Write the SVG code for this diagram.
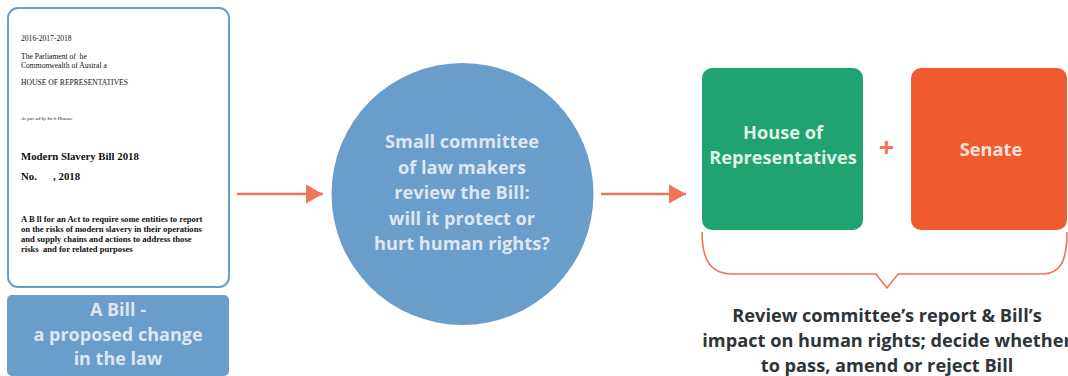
<svg xmlns="http://www.w3.org/2000/svg" width="1068" height="376" viewBox="0 0 1068 376">
<style>
.doc{font-family:"Liberation Serif","Times New Roman",serif;fill:#111}
.lbl{font-family:"Open Sans","Noto Sans",sans-serif;font-weight:700;text-anchor:middle}
.light{fill:#dde6f1}
.conn{stroke:#ee7658;stroke-width:2.5;fill:none}
</style>
<defs>
<marker id="ah" markerUnits="userSpaceOnUse" markerWidth="18" markerHeight="20" refX="17" refY="10" orient="auto">
<path d="M0,0.5 L17,10 L0,19.5 Z" fill="#ee7658"/>
</marker>
</defs>
<rect width="1068" height="376" fill="#ffffff"/>
<g id="bill-document">
<rect x="8" y="8" width="221" height="279" rx="10" fill="#ffffff" stroke="#6b9dca" stroke-width="2"/>
<text class="doc" x="21" y="41" font-size="7.6">2016-2017-2018</text>
<text class="doc" x="21" y="59" font-size="7.6" xml:space="preserve">The Parliament of  he</text>
<text class="doc" x="21" y="68" font-size="7.6">Commonwealth of Austral a</text>
<text class="doc" x="21" y="85" font-size="7.6">HOUSE OF REPRESENTATIVES</text>
<text class="doc" x="21" y="120" font-size="5" font-style="italic">As pas ed by bo h Houses</text>
<text class="doc" x="21" y="160" font-size="10.8" font-weight="700">Modern Slavery Bill 2018</text>
<text class="doc" x="21" y="180" font-size="10.8" font-weight="700" xml:space="preserve">No.      , 2018</text>
<text class="doc" x="21" y="222" font-size="8.6" font-weight="700">A B ll for an Act to require some entities to report</text>
<text class="doc" x="21" y="232" font-size="8.6" font-weight="700">on the risks of modern slavery in their operations</text>
<text class="doc" x="21" y="242" font-size="8.6" font-weight="700">and supply chains and actions to address those</text>
<text class="doc" x="21" y="252" font-size="8.6" font-weight="700" xml:space="preserve">risks  and for related purposes</text>
</g>
<g id="bill-label">
<rect x="7" y="295" width="222" height="81" rx="5" fill="#6b9dca"/>
<text class="lbl light" font-size="18"><tspan x="118" y="316">A Bill -</tspan><tspan x="118" y="340.5">a proposed change</tspan><tspan x="118" y="365">in the law</tspan></text>
</g>
<g id="committee">
<circle cx="462.5" cy="194" r="131" fill="#6b9dca"/>
<text class="lbl light" font-size="18.2"><tspan x="462" y="148">Small committee</tspan><tspan x="462" y="173.5">of law makers</tspan><tspan x="462" y="199">review the Bill:</tspan><tspan x="462" y="224.5">will it protect or</tspan><tspan x="462" y="250">hurt human rights?</tspan></text>
</g>
<g id="house">
<rect x="702" y="68" width="161" height="162" rx="10" fill="#20a271"/>
<text class="lbl" fill="#def2e7" font-size="18.2"><tspan x="783" y="139">House of</tspan><tspan x="783" y="164">Representatives</tspan></text>
</g>
<g id="plus">
<text class="lbl" x="886.5" y="157" font-size="27" font-weight="800" fill="#ee7658">+</text>
</g>
<g id="senate">
<rect x="911" y="68" width="156" height="162" rx="10" fill="#ef5a2f"/>
<text class="lbl" x="991" y="156" font-size="18.2" fill="#fbe2d8">Senate</text>
</g>
<g id="outcome">
<text class="lbl" fill="#2e3539" font-size="18.2"><tspan x="887" y="322">Review committee’s report &amp; Bill’s</tspan><tspan x="887" y="347">impact on human rights; decide whether</tspan><tspan x="887" y="372">to pass, amend or reject Bill</tspan></text>
</g>
<g id="connectors">
<line class="conn" x1="237" y1="194" x2="323" y2="194" marker-end="url(#ah)"/>
<line class="conn" x1="601" y1="194" x2="686" y2="194" marker-end="url(#ah)"/>
<path d="M702,232 C702,262 712,274 732,274 L876,274 L887,288 L898,274 L1042,274 C1060,274 1067,262 1067,232" fill="none" stroke="#ee7658" stroke-width="1.6"/>
</g>
</svg>
